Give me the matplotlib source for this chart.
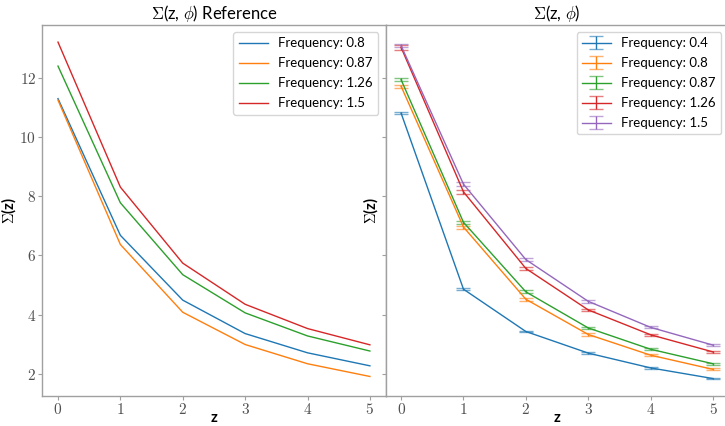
"""Sigma(z, phi) reference vs measured curves, side by side."""

import matplotlib
matplotlib.use("Agg")
import matplotlib.pyplot as plt
from matplotlib.ticker import FuncFormatter

Z = [0, 1, 2, 3, 4, 5]

# left panel: reference curves
REF_FREQS = ["0.8", "0.87", "1.26", "1.5"]
REF_08 = [11.30, 6.68, 4.49, 3.36, 2.71, 2.27]
REF_087 = [11.25, 6.37, 4.08, 2.99, 2.34, 1.91]
REF_126 = [12.40, 7.78, 5.35, 4.06, 3.28, 2.77]
REF_15 = [13.21, 8.31, 5.74, 4.35, 3.53, 2.98]

# right panel: measured curves with error bars
MEAS_FREQS = ["0.4", "0.8", "0.87", "1.26", "1.5"]
MEAS_04 = [10.81, 4.86, 3.43, 2.70, 2.20, 1.84]
MEAS_08 = [11.72, 6.96, 4.52, 3.33, 2.63, 2.15]
MEAS_087 = [11.94, 7.12, 4.77, 3.55, 2.83, 2.34]
MEAS_126 = [13.03, 8.15, 5.56, 4.16, 3.32, 2.74]
MEAS_15 = [13.09, 8.41, 5.86, 4.45, 3.57, 2.97]
ERR_04 = [0.04, 0.04, 0.03, 0.03, 0.03, 0.03]
ERR_08 = [0.05, 0.05, 0.05, 0.04, 0.03, 0.03]
ERR_087 = [0.05, 0.06, 0.05, 0.04, 0.03, 0.03]
ERR_126 = [0.07, 0.06, 0.05, 0.04, 0.03, 0.03]
ERR_15 = [0.06, 0.06, 0.05, 0.04, 0.03, 0.03]

COLORS = ["tab:blue", "tab:orange", "tab:green", "tab:red", "tab:purple"]

plt.rcParams["font.family"] = ["Lato", "DejaVu Sans"]
plt.rcParams["mathtext.fontset"] = "cm"

SPINE = "#a0a0a0"
TICKTXT = "#505050"

fig = plt.figure(figsize=(7.25, 4.26), dpi=100)
bottom, height = 0.0704, 0.871
w = 343.1 / 725
ax1 = fig.add_axes([42.4 / 725, bottom, w, height])
ax2 = fig.add_axes([385.5 / 725, bottom, w, height], sharey=ax1)

mathfmt = FuncFormatter(lambda v, p: r"$%d$" % v)

ref = [REF_08, REF_087, REF_126, REF_15]
for ys, f, c in zip(ref, REF_FREQS, COLORS):
    ax1.plot(Z, ys, color=c, lw=1.0, label=f"Frequency: {f}")

meas = [MEAS_04, MEAS_08, MEAS_087, MEAS_126, MEAS_15]
errs = [ERR_04, ERR_08, ERR_087, ERR_126, ERR_15]
for ys, es, f, c in zip(meas, errs, MEAS_FREQS, COLORS):
    _, caps, bars = ax2.errorbar(Z, ys, yerr=es, color=c, lw=1.0, capsize=5,
                                 capthick=1.0, label=f"Frequency: {f}")
    for cp in caps:
        cp.set_alpha(0.6)

ax1.set_title(r"$\Sigma$(z, $\phi$) Reference", fontsize=12, pad=4)
ax2.set_title(r"$\Sigma$(z, $\phi$)", fontsize=12, pad=4)

for ax in (ax1, ax2):
    ax.set_xlim(-0.25, 5.25)
    ax.set_xticks(Z)
    ax.xaxis.set_major_formatter(mathfmt)
    ax.yaxis.set_major_formatter(mathfmt)
    ax.set_xlabel("z", fontsize=10.5, fontweight="bold")
    ax.xaxis.set_label_coords(0.5, -0.04)
    ax.set_ylabel(r"$\Sigma$(z)", fontsize=10.5, fontweight="bold", labelpad=1)
    for s in ax.spines.values():
        s.set_color(SPINE)
        s.set_linewidth(1.0)
    ax.tick_params(colors=SPINE, labelcolor=TICKTXT, labelsize=11, length=3, pad=1.5)
    ax.legend(loc="upper right", fontsize=9.5, handlelength=2.2,
              labelspacing=0.6, borderaxespad=0.55)

ax1.set_ylim(1.25, 13.79)
ax1.set_yticks([2, 4, 6, 8, 10, 12])
ax2.tick_params(axis="y", labelleft=False)

fig.savefig("out.png", dpi=100)
